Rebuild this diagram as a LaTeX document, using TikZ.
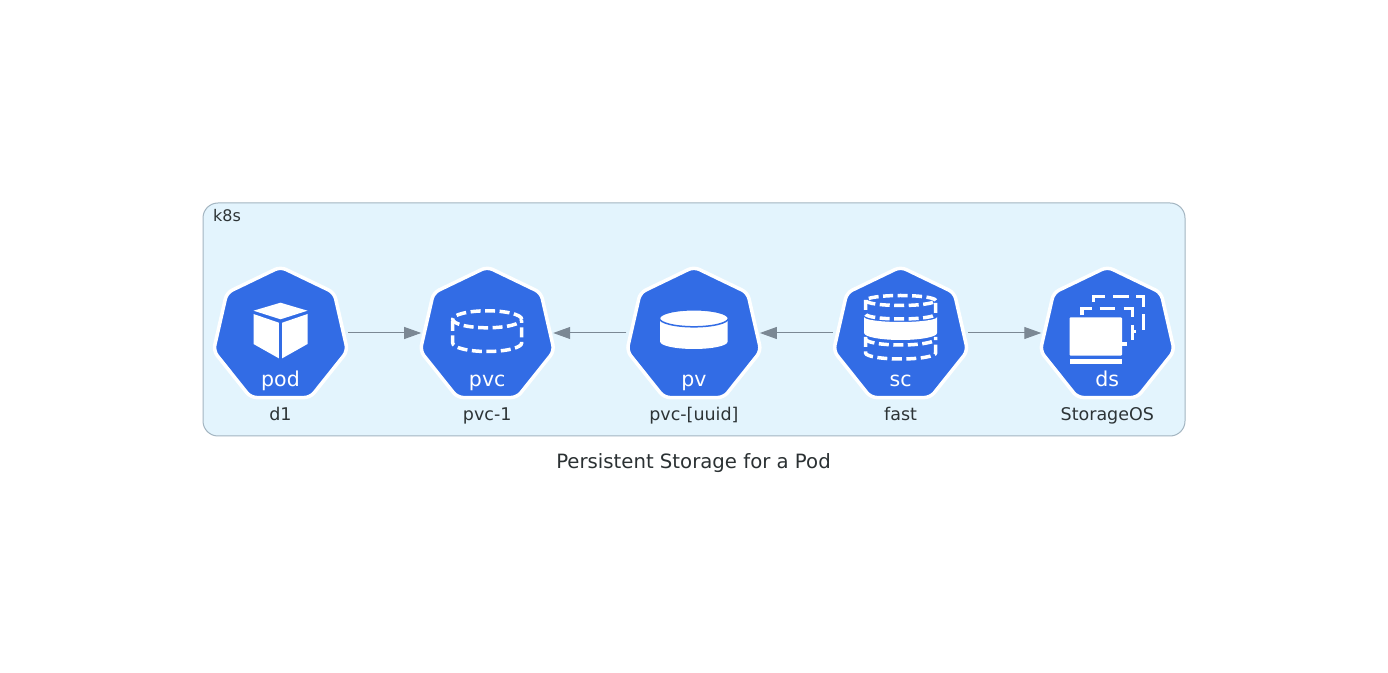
\documentclass[tikz,border=0pt]{standalone}
\usepackage{fontspec}
\setmainfont{DejaVu Sans}
\usetikzlibrary{arrows.meta,positioning,shapes.geometric}
\definecolor{k8sblue}{HTML}{326CE5}
\definecolor{cluster}{HTML}{E3F4FD}
\definecolor{clusterline}{HTML}{A3B5C1}
\definecolor{ink}{HTML}{2D3436}
\definecolor{wire}{HTML}{7B8894}
\tikzset{
  >={Triangle[length=17pt,width=12pt]},
  every node/.style={text=ink},
  clusterbox/.style={draw=clusterline,line width=1pt,fill=cluster,rounded corners=15pt,minimum width=982pt,minimum height=233pt,inner sep=0pt},
  k8snode/.style={regular polygon,regular polygon sides=7,draw=white,line width=3.5pt,fill=k8sblue,rounded corners=6pt,minimum size=137.5pt,inner sep=0pt,outer sep=0pt},
  kindtext/.style={text=white,anchor=base,inner sep=0pt,font=\fontsize{20.5}{24}\selectfont},
  nametext/.style={anchor=base,inner sep=0pt,font=\fontsize{17.5}{20}\selectfont},
  titletext/.style={anchor=base,inner sep=0pt,text=ink!95!black,font=\fontsize{19.7}{24}\selectfont},
  link/.style={->,line width=1pt,draw=wire,shorten >=2.5pt,shorten <=4pt},
  dashline/.style={draw=white,line width=3.5pt,dash pattern=on 10pt off 4.5pt},
  iconline/.style={draw=white,line width=3.5pt},
  iconfill/.style={fill=white,draw=none},
}
\begin{document}
\begin{tikzpicture}[x=1pt,y=1pt,on grid,node distance=206.7pt]
  \useasboundingbox (0,0) rectangle (1388,672);
  \fill[white] (0,0) rectangle (1388,672);
  \node[clusterbox] (k8s) at (694,352.5) {};
  \node[anchor=base west,inner sep=0pt,font=\fontsize{16}{18}\selectfont] (k8slabel) at (213,450) {k8s};
  \node[k8snode] (pod) at (280.5,336.4) {};
  \node[k8snode,right=of pod] (pvc) {};
  \node[k8snode,right=of pvc] (pv) {};
  \node[k8snode,right=of pv] (sc) {};
  \node[k8snode,right=of sc] (ds) {};
  % kinds inside the heptagons
  \node[kindtext] (podkind) at ([yshift=-50.9pt]pod.center) {pod};
  \node[kindtext] (pvckind) at ([yshift=-50.9pt]pvc.center) {pvc};
  \node[kindtext] (pvkind) at ([yshift=-50.9pt]pv.center) {pv};
  \node[kindtext] (sckind) at ([yshift=-50.9pt]sc.center) {sc};
  \node[kindtext] (dskind) at ([yshift=-50.9pt]ds.center) {ds};
  % names under them
  \node[nametext] (podname) at ([yshift=-85.4pt]pod.center) {d1};
  \node[nametext] (pvcname) at ([yshift=-85.4pt]pvc.center) {pvc-1};
  \node[nametext] (pvname) at ([yshift=-85.4pt]pv.center) {pvc-[uuid]};
  \node[nametext] (scname) at ([yshift=-85.4pt]sc.center) {fast};
  \node[nametext] (dsname) at ([yshift=-85.4pt]ds.center) {StorageOS};
  \node[titletext] (title) at (693.5,203.5) {Persistent Storage for a Pod};
  % icons
  \begin{scope}[shift={(280.5,336)}]
    \fill[iconfill] (-27,25.3) -- (0,33.3) -- (27,25.3) -- (0,16.7) -- cycle;
    \fill[iconfill] (-27,22) -- (-1.7,13.3) -- (-1.7,-22.3) -- (-27,-8) -- cycle;
    \fill[iconfill] (27,22) -- (1.7,13.3) -- (1.7,-22.3) -- (27,-8) -- cycle;
  \end{scope}
  \begin{scope}[shift={(487.2,336)}]
    \draw[dashline] (0,16.7) ellipse [x radius=34.5,y radius=8.5];
    \draw[dashline] (-34.5,15) -- (-34.5,-7) arc [start angle=180,end angle=360,x radius=34.5,y radius=8.5] -- (34.5,15);
  \end{scope}
  \begin{scope}[shift={(693.9,336)}]
    \fill[iconfill] (-33.7,17.7) -- (-33.7,-5.7) arc [start angle=180,end angle=360,x radius=33.7,y radius=7.3] -- (33.7,17.7) -- cycle;
    \draw[fill=white,draw=k8sblue,line width=1.5pt] (0,17.7) ellipse [x radius=34.5,y radius=8.5];
  \end{scope}
  \begin{scope}[shift={(900.6,336)}]
    \draw[dashline] (0,35.5) ellipse [x radius=35,y radius=5];
    \draw[dashline] (-35,36) -- (-35,22) arc [start angle=180,end angle=360,x radius=35,y radius=5] -- (35,36);
    \fill[iconfill] (-36.5,19) arc [start angle=180,end angle=360,x radius=36.5,y radius=5] -- (36.5,3) arc [start angle=0,end angle=-180,x radius=36.5,y radius=7] -- cycle;
    \draw[dashline] (-35,-3) arc [start angle=180,end angle=360,x radius=35,y radius=6];
    \draw[dashline] (-35,-1) -- (-35,-17) arc [start angle=180,end angle=360,x radius=35,y radius=6] -- (35,-1);
  \end{scope}
  \begin{scope}[shift={(1107.3,336)}]
    \fill[iconfill,rounded corners=1pt] (-37.7,18.7) rectangle (14.7,-19.7);
    \fill[iconfill] (-37.7,-23) rectangle (14.7,-28);
    \draw[iconline] (-25.3,21) -- (-25.3,27.7) -- (-15.3,27.7) (-7.7,27.7) -- (8,27.7) (16.3,27.7) -- (25.3,27.7) -- (25.3,19.3) (25.3,11) -- (25.3,-4) (14.7,-8) -- (19.7,-8);
    \draw[iconline] (-13.7,34) -- (-13.7,39.3) -- (-2,39.3) (5.7,39.3) -- (21.3,39.3) (29,39.3) -- (36.3,39.3) -- (36.3,29.3) (36.3,21.7) -- (36.3,6) (25.3,4.3) -- (29,4.3);
  \end{scope}
  % links
  \draw[link] ([yshift=2.6pt]pod.east) -- ([yshift=2.6pt]pvc.west);
  \draw[link] ([yshift=2.6pt]pv.west) -- ([yshift=2.6pt]pvc.east);
  \draw[link] ([yshift=2.6pt]sc.west) -- ([yshift=2.6pt]pv.east);
  \draw[link] ([yshift=2.6pt]sc.east) -- ([yshift=2.6pt]ds.west);
\end{tikzpicture}
\end{document}
